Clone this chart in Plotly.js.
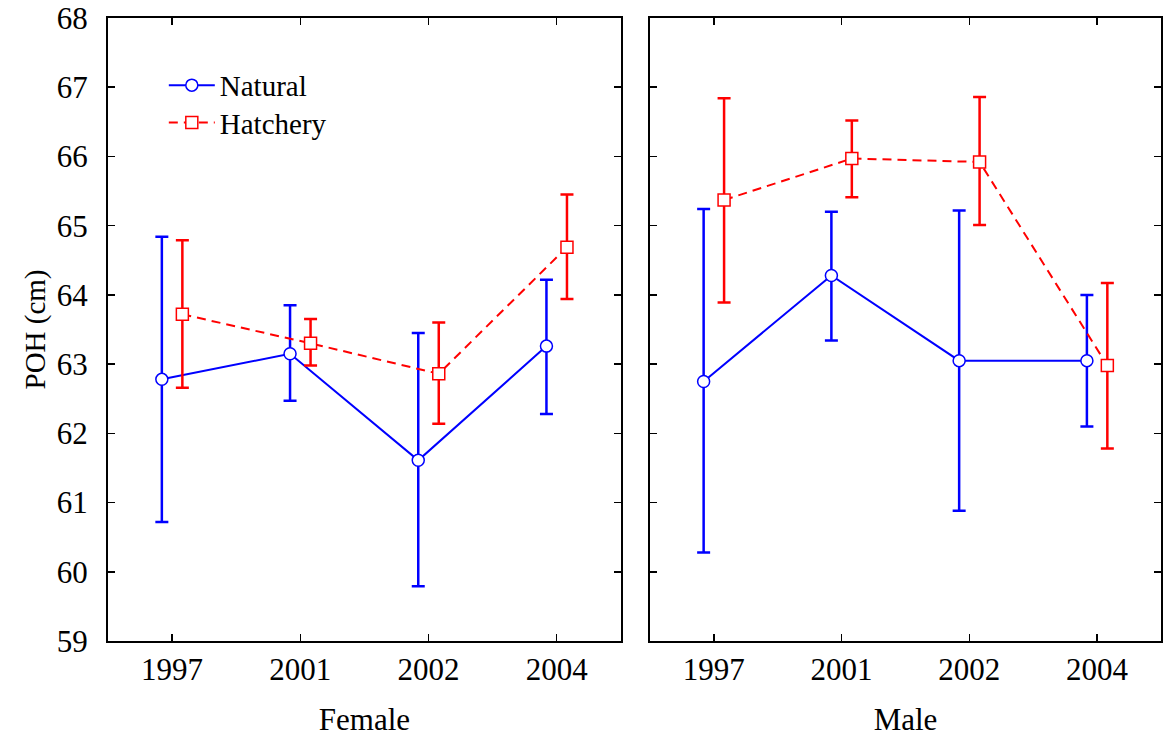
<!DOCTYPE html>
<html>
<head>
<meta charset="utf-8">
<script src="https://cdn.plot.ly/plotly-3.0.1.min.js"></script>
<style>
  html, body { margin: 0; padding: 0; background: #ffffff; }
  #chart { width: 1163px; height: 737px; }
</style>
</head>
<body>
<div id="chart"></div>
<script>
// Year categories shared by both panels
const years = ['1997', '2001', '2002', '2004'];

// Female: means and confidence-interval ends (cm)
const femaleNaturalMean  = [62.78, 63.15, 61.61, 63.26];
const femaleNaturalHigh  = [64.84, 63.85, 63.45, 64.22];
const femaleNaturalLow   = [60.72, 62.47, 59.79, 62.28];
const femaleHatcheryMean = [63.72, 63.30, 62.86, 64.69];
const femaleHatcheryHigh = [64.79, 63.65, 63.60, 65.45];
const femaleHatcheryLow  = [62.66, 62.98, 62.14, 63.94];

// Male: means and confidence-interval ends (cm)
const maleNaturalMean  = [62.75, 64.28, 63.05, 63.05];
const maleNaturalHigh  = [65.24, 65.20, 65.22, 64.00];
const maleNaturalLow   = [60.28, 63.34, 60.88, 62.10];
const maleHatcheryMean = [65.37, 65.97, 65.92, 62.98];
const maleHatcheryHigh = [66.84, 66.52, 66.86, 64.17];
const maleHatcheryLow  = [63.89, 65.41, 65.01, 61.78];

const FONT = '"Liberation Serif", "Times New Roman", Times, serif';
const BLUE = '#0000ff';
const RED = '#ff0000';
const SHIFT = 0.08; // horizontal dodge between the two origins

const idx = years.map((_, i) => i);

function series(name, mean, high, low, color, dash, symbol, shift, xa, ya, legendId) {
  return {
    type: 'scatter',
    mode: 'lines+markers',
    name: name,
    x: idx.map(i => i + shift),
    y: mean,
    xaxis: xa,
    yaxis: ya,
    showlegend: !!legendId,
    legend: legendId || 'legend',
    legendgroup: name,
    line: { color: color, width: 2, dash: dash },
    marker: { symbol: symbol, size: 12, color: '#ffffff', line: { color: color, width: 1.5 } },
    error_y: {
      type: 'data',
      symmetric: false,
      array: high.map((h, i) => h - mean[i]),
      arrayminus: low.map((l, i) => mean[i] - l),
      color: color,
      thickness: 2.5,
      width: 6.5
    },
    hoverinfo: 'skip'
  };
}

const traces = [
  series('Natural', femaleNaturalMean, femaleNaturalHigh, femaleNaturalLow, BLUE, 'solid', 'circle', -SHIFT, 'x', 'y', 'legend'),
  series('Hatchery', femaleHatcheryMean, femaleHatcheryHigh, femaleHatcheryLow, RED, '9px,6px', 'square', SHIFT, 'x', 'y', 'legend2'),
  series('Natural', maleNaturalMean, maleNaturalHigh, maleNaturalLow, BLUE, 'solid', 'circle', -SHIFT, 'x2', 'y2', null),
  series('Hatchery', maleHatcheryMean, maleHatcheryHigh, maleHatcheryLow, RED, '9px,6px', 'square', SHIFT, 'x2', 'y2', null)
];

const tickFont = { family: FONT, size: 31, color: '#000000' };

const xCommon = {
  range: [-0.5, 3.5],
  tickmode: 'array',
  tickvals: idx,
  ticktext: years,
  ticks: 'inside',
  ticklen: 7,
  tickwidth: 1.5,
  tickcolor: '#000000',
  showline: true,
  linecolor: '#000000',
  linewidth: 2,
  mirror: 'ticks',
  showgrid: false,
  zeroline: false,
  tickfont: tickFont,
  fixedrange: true
};

const yCommon = {
  range: [59, 68],
  tickmode: 'linear',
  tick0: 59,
  dtick: 1,
  ticks: 'inside',
  ticklen: 7,
  tickwidth: 1.5,
  tickcolor: '#000000',
  showline: true,
  linecolor: '#000000',
  linewidth: 2,
  mirror: 'ticks',
  showgrid: false,
  zeroline: false,
  tickfont: tickFont,
  fixedrange: true
};

const legendCommon = {
  xanchor: 'left',
  yanchor: 'middle',
  bgcolor: 'rgba(0,0,0,0)',
  font: { family: FONT, size: 29, color: '#000000' },
  itemwidth: 46
};

const layout = {
  width: 1163,
  height: 737,
  margin: { l: 108, r: 2, t: 18, b: 96 },
  paper_bgcolor: '#ffffff',
  plot_bgcolor: '#ffffff',
  font: { family: FONT, color: '#000000' },
  showlegend: true,
  legend: Object.assign({}, legendCommon, { x: 0.053, y: 0.892 }),
  legend2: Object.assign({}, legendCommon, { x: 0.053, y: 0.832 }),
  xaxis: Object.assign({}, xCommon, {
    domain: [0, 0.487],
    anchor: 'y',
    title: { text: 'Female', font: { family: FONT, size: 31 }, standoff: 24 }
  }),
  xaxis2: Object.assign({}, xCommon, {
    domain: [0.5147, 1],
    anchor: 'y2',
    title: { text: 'Male', font: { family: FONT, size: 31 }, standoff: 24 }
  }),
  yaxis: Object.assign({}, yCommon, {
    anchor: 'x',
    ticklabelstandoff: 12,
    title: { text: 'POH (cm)', font: { family: FONT, size: 29 }, standoff: 3 }
  }),
  yaxis2: Object.assign({}, yCommon, {
    anchor: 'x2',
    matches: 'y',
    showticklabels: false
  })
};

Plotly.newPlot('chart', traces, layout, { displayModeBar: false, staticPlot: true });
</script>
</body>
</html>
